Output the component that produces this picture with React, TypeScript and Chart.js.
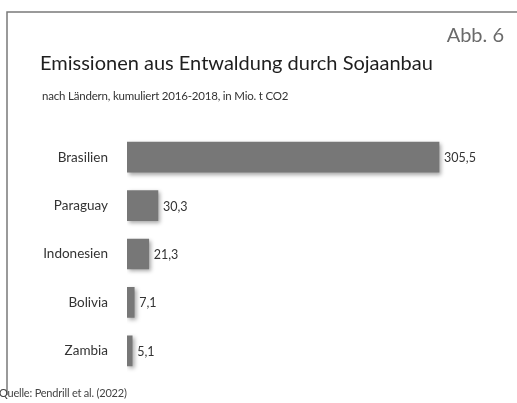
import React, { useEffect, useRef } from "react";
import { Chart, registerables } from "chart.js";

Chart.register(...registerables);

const categories = ["Brasilien", "Paraguay", "Indonesien", "Bolivia", "Zambia"];
const values = [305.5, 30.3, 21.3, 7.1, 5.1];
const valueLabels = ["305,5", "30,3", "21,3", "7,1", "5,1"];

const titleText = "Emissionen aus Entwaldung durch Sojaanbau";
const subtitleText = "nach Ländern, kumuliert 2016-2018, in Mio. t CO2";
const figText = "Abb. 6";
const sourceText = "Quelle: Pendrill et al. (2022)";

const FONT = "Lato, 'Open Sans', sans-serif";

export default function App() {
  const ref = useRef<HTMLCanvasElement | null>(null);

  useEffect(() => {
    if (!ref.current) return;

    const shadowPlugin = {
      id: "barShadow",
      beforeDatasetsDraw(chart: any) {
        const ctx = chart.ctx;
        ctx.save();
        ctx.shadowColor = "rgba(0,0,0,0.35)";
        ctx.shadowBlur = 4;
        ctx.shadowOffsetX = 2;
        ctx.shadowOffsetY = 2;
      },
      afterDatasetsDraw(chart: any) {
        chart.ctx.restore();
      },
    };

    const decoPlugin = {
      id: "deco",
      afterDraw(chart: any) {
        const ctx = chart.ctx;
        ctx.save();
        // frame
        ctx.strokeStyle = "#7a7a7a";
        ctx.lineWidth = 1.5;
        ctx.beginPath();
        ctx.moveTo(7, 395);
        ctx.lineTo(7, 12);
        ctx.lineTo(517, 12);
        ctx.stroke();

        // Abb. 6
        ctx.fillStyle = "#6a6a6a";
        ctx.font = `20px ${FONT}`;
        ctx.textAlign = "right";
        ctx.textBaseline = "alphabetic";
        ctx.fillText(figText, 504, 42);

        // title
        ctx.fillStyle = "#1e1e1e";
        ctx.font = `20px ${FONT}`;
        ctx.textAlign = "left";
        ctx.fillText(titleText, 40, 70);

        // subtitle
        ctx.fillStyle = "#333";
        ctx.font = `11.5px ${FONT}`;
        (ctx as any).letterSpacing = "-0.2px";
        ctx.fillText(subtitleText, 42, 100);

        // source
        (ctx as any).letterSpacing = "-0.2px";
        ctx.fillStyle = "#444";
        ctx.font = `11px ${FONT}`;
        ctx.fillText(sourceText, -1, 397);
        (ctx as any).letterSpacing = "0px";

        // value labels
        const meta = chart.getDatasetMeta(0);
        ctx.fillStyle = "#333";
        ctx.font = `12.5px ${FONT}`;
        ctx.textBaseline = "middle";
        meta.data.forEach((bar: any, i: number) => {
          ctx.fillText(valueLabels[i], bar.x + 5, bar.y + 1);
        });
        ctx.restore();
      },
    };

    const chart = new Chart(ref.current, {
      type: "bar",
      data: {
        labels: categories,
        datasets: [
          {
            data: values,
            backgroundColor: "#777777",
            borderWidth: 0,
            barThickness: 30,
          },
        ],
      },
      options: {
        indexAxis: "y",
        responsive: false,
        animation: false,
        layout: { padding: { top: 133, bottom: 28, left: 0, right: 32.5 } },
        plugins: {
          legend: { display: false },
          tooltip: { enabled: false },
          title: { display: false },
        },
        scales: {
          x: { display: false, min: 0, max: 350 },
          y: {
            grid: { display: false, drawTicks: false },
            border: { display: false },
            ticks: {
              padding: 19,
              color: "#333",
              font: { family: FONT, size: 13.5 },
            },
            afterFit(scale: any) {
              scale.width = 127;
            },
          },
        },
      },
      plugins: [shadowPlugin, decoPlugin],
    } as any);

    return () => chart.destroy();
  }, []);

  return (
    <div style={{ position: "absolute", left: 0, top: 0, width: 517, height: 403, background: "#fff" }}>
      <canvas ref={ref} width={517} height={403} />
    </div>
  );
}
